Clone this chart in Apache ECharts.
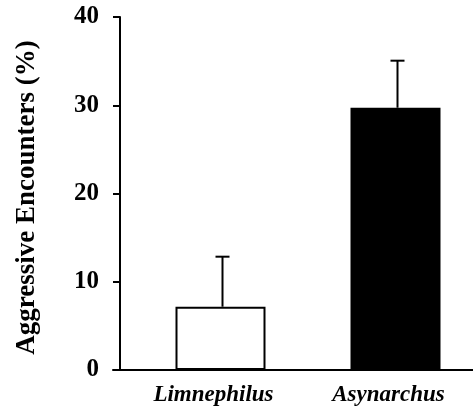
<!DOCTYPE html>
<html>
<head>
<meta charset="utf-8">
<script src="https://cdn.jsdelivr.net/npm/echarts@6/dist/echarts.min.js"></script>
<style>html,body{margin:0;padding:0;background:#fff;}#c{width:473px;height:408px;}</style>
</head>
<body>
<div id="c"></div>
<script>
const categories = ['Limnephilus', 'Asynarchus'];
const means = [7.17, 29.72];
const errorTops = [12.84, 35.05];
const barColors = ['#ffffff', '#000000'];
const yTicks = [0, 10, 20, 30, 40];

const font = '"Liberation Serif", "Times New Roman", serif';
const chart = echarts.init(document.getElementById('c'), null, {renderer: 'canvas'});

chart.setOption({
  animation: false,
  backgroundColor: '#ffffff',
  grid: [
    {left: 133, top: 17, width: 350, bottom: 38, outerBoundsMode: 'none', containLabel: false},
    {left: 113, top: 17, right: 0, bottom: 38, outerBoundsMode: 'none', containLabel: false}
  ],
  xAxis: [
    {
      type: 'category', gridIndex: 0, data: categories,
      axisLine: {show: false}, axisTick: {show: false},
      axisLabel: {
        color: '#000', fontFamily: font, fontWeight: 'bold', fontStyle: 'italic',
        fontSize: 23, margin: 14, padding: [0, 14, 0, 0]
      }
    },
    {
      type: 'value', gridIndex: 1, min: 0, max: 1,
      axisLine: {show: true, onZero: false, lineStyle: {color: '#000', width: 2}},
      axisTick: {show: false}, axisLabel: {show: false}, splitLine: {show: false}
    }
  ],
  yAxis: [
    {
      type: 'value', gridIndex: 0, min: yTicks[0], max: yTicks[yTicks.length - 1], interval: 10,
      offset: 13,
      name: 'Aggressive Encounters (%)', nameLocation: 'middle', nameGap: 79,
      nameTextStyle: {color: '#000', fontFamily: font, fontWeight: 'bold', fontSize: 27, padding: [0, 8, 0, 0]},
      axisLine: {show: true, lineStyle: {color: '#000', width: 2}},
      axisTick: {show: true, inside: false, length: 7, lineStyle: {color: '#000', width: 2}},
      axisLabel: {color: '#000', fontFamily: font, fontWeight: 'bold', fontSize: 25, margin: 21},
      splitLine: {show: false}
    },
    {type: 'value', gridIndex: 1, show: false, min: 0, max: 1}
  ],
  series: [
    {
      type: 'bar', xAxisIndex: 0, yAxisIndex: 0, barWidth: 90,
      data: means.map((v, i) => ({
        value: v,
        itemStyle: {color: barColors[i], borderColor: '#000', borderWidth: 2}
      }))
    },
    {
      type: 'custom', xAxisIndex: 0, yAxisIndex: 0,
      data: categories.map((c, i) => [i, means[i], errorTops[i]]),
      encode: {x: 0, y: 2},
      renderItem: function (params, api) {
        const base = api.coord([api.value(0), api.value(1)]);
        const top = api.coord([api.value(0), api.value(2)]);
        const x = base[0] + 2;
        const half = 7;
        const st = {stroke: '#000', lineWidth: 2};
        return {
          type: 'group',
          children: [
            {type: 'line', shape: {x1: x, y1: base[1], x2: x, y2: top[1]}, style: st},
            {type: 'line', shape: {x1: x - half, y1: top[1], x2: x + half, y2: top[1]}, style: st}
          ]
        };
      },
      z: 3
    }
  ]
});
</script>
</body>
</html>
